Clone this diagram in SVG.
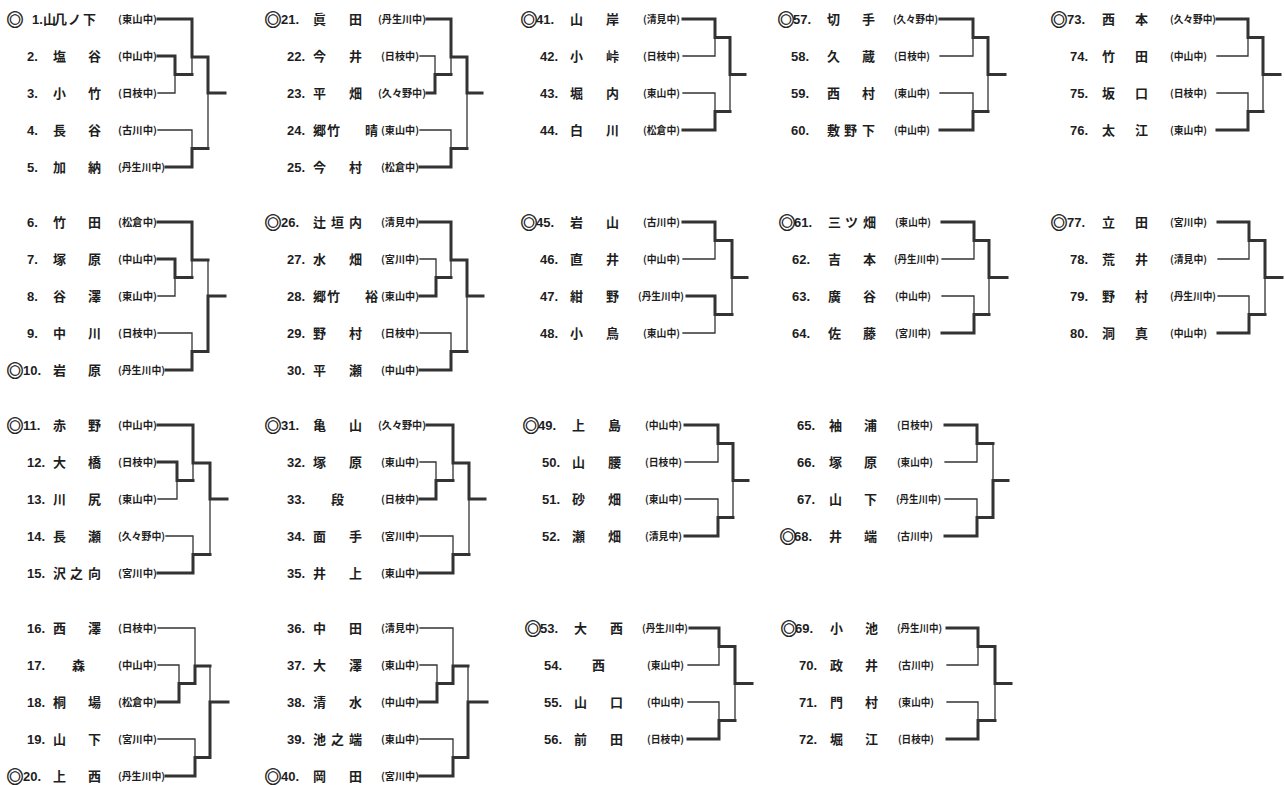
<svg xmlns="http://www.w3.org/2000/svg" width="1285" height="785" viewBox="0 0 1285 785">
<style>
.n{font-family:"Liberation Sans",Arial,sans-serif;font-weight:bold;font-size:13px;fill:#1e1e1e}
.j{font-family:"Noto Sans CJK JP",sans-serif;font-weight:bold;font-size:13px;fill:#1e1e1e}
.m{font-family:"Noto Sans CJK JP",sans-serif;font-weight:bold;font-size:17px;fill:#1e1e1e;stroke:#1e1e1e;stroke-width:0.5;transform:translate(-1.5px,1.5px)}
.s{font-family:"Noto Sans CJK JP",sans-serif;font-weight:bold;font-size:10px;fill:#1e1e1e}
.t{fill:none;stroke:#333;stroke-width:1.3;stroke-linecap:square}
.k{fill:none;stroke:#333;stroke-width:3;stroke-linecap:square}
</style>
<rect width="1285" height="785" fill="#fff"/>
<g id="connectors">
<path class="k" d="M158 19H192 M158 56H175 M175 56V74.5 M175 74.5H192 M192 19V57 M192 57H208 M166 167H192 M192 148.5V167 M192 148.5H208 M208 57V93 M208 93H225"/>
<path class="t" d="M158 93H175 M175 74.5V93 M192 57V74.5 M158 130H192 M192 130V148.5 M208 93V148.5"/>
<path class="k" d="M158 222H192 M158 259H175 M175 259V277.5 M175 277.5H192 M192 222V260 M192 260H208 M166 370H192 M192 351.5V370 M192 351.5H208 M208 296V351.5 M208 296H225"/>
<path class="t" d="M158 296H175 M175 277.5V296 M192 260V277.5 M158 333H192 M192 333V351.5 M208 260V296"/>
<path class="k" d="M158 425H193 M158 462H177 M177 462V480.5 M177 480.5H193 M193 425V463 M193 463H210 M158 573H193 M193 554.5V573 M193 554.5H210 M210 463V499 M210 499H227"/>
<path class="t" d="M158 499H177 M177 480.5V499 M193 463V480.5 M166 536H193 M193 536V554.5 M210 499V554.5"/>
<path class="k" d="M158 702H179 M179 683.5V702 M179 683.5H195 M195 666V683.5 M195 666H210 M166 776H195 M195 757.5V776 M195 757.5H210 M210 702V757.5 M210 702H228"/>
<path class="t" d="M158 628H195 M195 628V666 M158 665H179 M179 665V683.5 M158 739H195 M195 739V757.5 M210 666V702"/>
<path class="k" d="M427 19H451 M427 93H435 M435 74.5V93 M435 74.5H451 M451 19V57 M451 57H467 M420 167H451 M451 148.5V167 M451 148.5H467 M467 57V93 M467 93H482"/>
<path class="t" d="M420 56H435 M435 56V74.5 M451 57V74.5 M420 130H451 M451 130V148.5 M467 93V148.5"/>
<path class="k" d="M420 222H451 M420 296H436 M436 277.5V296 M436 277.5H451 M451 222V260 M451 260H467 M420 370H451 M451 351.5V370 M451 351.5H467 M467 260V296 M467 296H483"/>
<path class="t" d="M420 259H436 M436 259V277.5 M451 260V277.5 M420 333H451 M451 333V351.5 M467 296V351.5"/>
<path class="k" d="M427 425H453 M420 499H436 M436 480.5V499 M436 480.5H453 M453 425V463 M453 463H469 M420 573H453 M453 554.5V573 M453 554.5H469 M469 463V499 M469 499H485"/>
<path class="t" d="M420 462H436 M436 462V480.5 M453 463V480.5 M420 536H453 M453 536V554.5 M469 499V554.5"/>
<path class="k" d="M420 702H437 M437 683.5V702 M437 683.5H453 M453 666V683.5 M453 666H468 M420 776H453 M453 757.5V776 M453 757.5H468 M468 702V757.5 M468 702H487"/>
<path class="t" d="M420 628H453 M453 628V666 M420 665H437 M437 665V683.5 M420 739H453 M453 739V757.5 M468 666V702"/>
<path class="k" d="M683 19H715 M715 19V37.5 M715 37.5H730 M683 130H715 M715 111.5V130 M715 111.5H730 M730 37.5V74.5 M730 74.5H745"/>
<path class="t" d="M683 56H715 M715 37.5V56 M683 93H715 M715 93V111.5 M730 74.5V111.5"/>
<path class="k" d="M683 222H715 M715 222V240.5 M715 240.5H732 M687 296H715 M715 296V314.5 M715 314.5H732 M732 240.5V277.5 M732 277.5H747"/>
<path class="t" d="M683 259H715 M715 240.5V259 M683 333H715 M715 314.5V333 M732 277.5V314.5"/>
<path class="k" d="M685 425H718 M718 425V443.5 M718 443.5H733 M685 536H718 M718 517.5V536 M718 517.5H733 M733 443.5V480.5 M733 480.5H748"/>
<path class="t" d="M685 462H718 M718 443.5V462 M685 499H718 M718 499V517.5 M733 480.5V517.5"/>
<path class="k" d="M690 628H719 M719 628V646.5 M719 646.5H735 M688 739H719 M719 720.5V739 M719 720.5H735 M735 646.5V683.5 M735 683.5H752"/>
<path class="t" d="M688 665H719 M719 646.5V665 M688 702H719 M719 702V720.5 M735 683.5V720.5"/>
<path class="k" d="M940 19H973 M973 19V37.5 M973 37.5H988 M940 130H973 M973 111.5V130 M973 111.5H988 M988 37.5V74.5 M988 74.5H1005"/>
<path class="t" d="M940 56H973 M973 37.5V56 M940 93H973 M973 93V111.5 M988 74.5V111.5"/>
<path class="k" d="M942 222H974 M974 222V240.5 M974 240.5H989 M942 333H974 M974 314.5V333 M974 314.5H989 M989 240.5V277.5 M989 277.5H1007"/>
<path class="t" d="M942 259H974 M974 240.5V259 M942 296H974 M974 296V314.5 M989 277.5V314.5"/>
<path class="k" d="M945 425H977 M977 425V443.5 M977 443.5H993 M945 536H977 M977 517.5V536 M977 517.5H993 M993 480.5V517.5 M993 480.5H1008"/>
<path class="t" d="M945 462H977 M977 443.5V462 M945 499H977 M977 499V517.5 M993 443.5V480.5"/>
<path class="k" d="M947 628H978 M978 628V646.5 M978 646.5H995 M947 739H978 M978 720.5V739 M978 720.5H995 M995 646.5V683.5 M995 683.5H1011"/>
<path class="t" d="M947 665H978 M978 646.5V665 M947 702H978 M978 702V720.5 M995 683.5V720.5"/>
<path class="k" d="M1217 19H1248 M1248 19V37.5 M1248 37.5H1263 M1217 130H1248 M1248 111.5V130 M1248 111.5H1263 M1263 37.5V74.5 M1263 74.5H1280"/>
<path class="t" d="M1217 56H1248 M1248 37.5V56 M1217 93H1248 M1248 93V111.5 M1263 74.5V111.5"/>
<path class="k" d="M1218 222H1249 M1249 222V240.5 M1249 240.5H1265 M1218 333H1249 M1249 314.5V333 M1249 314.5H1265 M1265 240.5V277.5 M1265 277.5H1282"/>
<path class="t" d="M1218 259H1249 M1249 240.5V259 M1218 296H1249 M1249 296V314.5 M1265 277.5V314.5"/>
</g>
<g id="e1"><text class="m" x="8" y="24">◎</text><text class="n" x="32" y="24">1.</text><text class="j" x="43 54 68 83" y="24">山几ノ下</text><text class="s" x="118" y="23" textLength="39" lengthAdjust="spacingAndGlyphs">(東山中)</text></g>
<g id="e2"><text class="n" x="27" y="61">2.</text><text class="j" x="53 88" y="61">塩谷</text><text class="s" x="118" y="60" textLength="39" lengthAdjust="spacingAndGlyphs">(中山中)</text></g>
<g id="e3"><text class="n" x="27" y="98">3.</text><text class="j" x="53 88" y="98">小竹</text><text class="s" x="118" y="97" textLength="39" lengthAdjust="spacingAndGlyphs">(日枝中)</text></g>
<g id="e4"><text class="n" x="27" y="135">4.</text><text class="j" x="53 88" y="135">長谷</text><text class="s" x="118" y="134" textLength="39" lengthAdjust="spacingAndGlyphs">(古川中)</text></g>
<g id="e5"><text class="n" x="27" y="172">5.</text><text class="j" x="53 88" y="172">加納</text><text class="s" x="118" y="171" textLength="47" lengthAdjust="spacingAndGlyphs">(丹生川中)</text></g>
<g id="e6"><text class="n" x="27" y="227">6.</text><text class="j" x="53 88" y="227">竹田</text><text class="s" x="118" y="226" textLength="39" lengthAdjust="spacingAndGlyphs">(松倉中)</text></g>
<g id="e7"><text class="n" x="27" y="264">7.</text><text class="j" x="53 88" y="264">塚原</text><text class="s" x="118" y="263" textLength="39" lengthAdjust="spacingAndGlyphs">(中山中)</text></g>
<g id="e8"><text class="n" x="27" y="301">8.</text><text class="j" x="53 88" y="301">谷澤</text><text class="s" x="118" y="300" textLength="39" lengthAdjust="spacingAndGlyphs">(東山中)</text></g>
<g id="e9"><text class="n" x="27" y="338">9.</text><text class="j" x="53 88" y="338">中川</text><text class="s" x="118" y="337" textLength="39" lengthAdjust="spacingAndGlyphs">(日枝中)</text></g>
<g id="e10"><text class="m" x="8" y="375">◎</text><text class="n" x="23" y="375">10.</text><text class="j" x="53 88" y="375">岩原</text><text class="s" x="118" y="374" textLength="47" lengthAdjust="spacingAndGlyphs">(丹生川中)</text></g>
<g id="e11"><text class="m" x="8" y="430">◎</text><text class="n" x="23" y="430">11.</text><text class="j" x="53 88" y="430">赤野</text><text class="s" x="118" y="429" textLength="39" lengthAdjust="spacingAndGlyphs">(中山中)</text></g>
<g id="e12"><text class="n" x="27" y="467">12.</text><text class="j" x="53 88" y="467">大橋</text><text class="s" x="118" y="466" textLength="39" lengthAdjust="spacingAndGlyphs">(日枝中)</text></g>
<g id="e13"><text class="n" x="27" y="504">13.</text><text class="j" x="53 88" y="504">川尻</text><text class="s" x="118" y="503" textLength="39" lengthAdjust="spacingAndGlyphs">(東山中)</text></g>
<g id="e14"><text class="n" x="27" y="541">14.</text><text class="j" x="53 88" y="541">長瀬</text><text class="s" x="118" y="540" textLength="47" lengthAdjust="spacingAndGlyphs">(久々野中)</text></g>
<g id="e15"><text class="n" x="27" y="578">15.</text><text class="j" x="53 70 88" y="578">沢之向</text><text class="s" x="118" y="577" textLength="39" lengthAdjust="spacingAndGlyphs">(宮川中)</text></g>
<g id="e16"><text class="n" x="27" y="633">16.</text><text class="j" x="53 88" y="633">西澤</text><text class="s" x="118" y="632" textLength="39" lengthAdjust="spacingAndGlyphs">(日枝中)</text></g>
<g id="e17"><text class="n" x="27" y="670">17.</text><text class="j" x="72" y="670">森</text><text class="s" x="118" y="669" textLength="39" lengthAdjust="spacingAndGlyphs">(中山中)</text></g>
<g id="e18"><text class="n" x="27" y="707">18.</text><text class="j" x="53 88" y="707">桐場</text><text class="s" x="118" y="706" textLength="39" lengthAdjust="spacingAndGlyphs">(松倉中)</text></g>
<g id="e19"><text class="n" x="27" y="744">19.</text><text class="j" x="53 88" y="744">山下</text><text class="s" x="118" y="743" textLength="39" lengthAdjust="spacingAndGlyphs">(宮川中)</text></g>
<g id="e20"><text class="m" x="8" y="781">◎</text><text class="n" x="23" y="781">20.</text><text class="j" x="53 88" y="781">上西</text><text class="s" x="118" y="780" textLength="47" lengthAdjust="spacingAndGlyphs">(丹生川中)</text></g>
<g id="e21"><text class="m" x="266" y="24">◎</text><text class="n" x="281" y="24">21.</text><text class="j" x="313 349" y="24">眞田</text><text class="s" x="378" y="23" textLength="48" lengthAdjust="spacingAndGlyphs">(丹生川中)</text></g>
<g id="e22"><text class="n" x="287" y="61">22.</text><text class="j" x="313 349" y="61">今井</text><text class="s" x="381" y="60" textLength="38" lengthAdjust="spacingAndGlyphs">(日枝中)</text></g>
<g id="e23"><text class="n" x="287" y="98">23.</text><text class="j" x="313 349" y="98">平畑</text><text class="s" x="378" y="97" textLength="48" lengthAdjust="spacingAndGlyphs">(久々野中)</text></g>
<g id="e24"><text class="n" x="287" y="135">24.</text><text class="j" x="313 327 365" y="135">郷竹晴</text><text class="s" x="381" y="134" textLength="38" lengthAdjust="spacingAndGlyphs">(東山中)</text></g>
<g id="e25"><text class="n" x="287" y="172">25.</text><text class="j" x="313 349" y="172">今村</text><text class="s" x="381" y="171" textLength="38" lengthAdjust="spacingAndGlyphs">(松倉中)</text></g>
<g id="e26"><text class="m" x="266" y="227">◎</text><text class="n" x="281" y="227">26.</text><text class="j" x="313 331 349" y="227">辻垣内</text><text class="s" x="381" y="226" textLength="38" lengthAdjust="spacingAndGlyphs">(清見中)</text></g>
<g id="e27"><text class="n" x="287" y="264">27.</text><text class="j" x="313 349" y="264">水畑</text><text class="s" x="381" y="263" textLength="38" lengthAdjust="spacingAndGlyphs">(宮川中)</text></g>
<g id="e28"><text class="n" x="287" y="301">28.</text><text class="j" x="313 327 365" y="301">郷竹裕</text><text class="s" x="381" y="300" textLength="38" lengthAdjust="spacingAndGlyphs">(東山中)</text></g>
<g id="e29"><text class="n" x="287" y="338">29.</text><text class="j" x="313 349" y="338">野村</text><text class="s" x="381" y="337" textLength="38" lengthAdjust="spacingAndGlyphs">(日枝中)</text></g>
<g id="e30"><text class="n" x="287" y="375">30.</text><text class="j" x="313 349" y="375">平瀬</text><text class="s" x="381" y="374" textLength="38" lengthAdjust="spacingAndGlyphs">(中山中)</text></g>
<g id="e31"><text class="m" x="266" y="430">◎</text><text class="n" x="281" y="430">31.</text><text class="j" x="313 349" y="430">亀山</text><text class="s" x="378" y="429" textLength="48" lengthAdjust="spacingAndGlyphs">(久々野中)</text></g>
<g id="e32"><text class="n" x="287" y="467">32.</text><text class="j" x="313 349" y="467">塚原</text><text class="s" x="381" y="466" textLength="38" lengthAdjust="spacingAndGlyphs">(東山中)</text></g>
<g id="e33"><text class="n" x="287" y="504">33.</text><text class="j" x="331" y="504">段</text><text class="s" x="381" y="503" textLength="38" lengthAdjust="spacingAndGlyphs">(日枝中)</text></g>
<g id="e34"><text class="n" x="287" y="541">34.</text><text class="j" x="313 349" y="541">面手</text><text class="s" x="381" y="540" textLength="38" lengthAdjust="spacingAndGlyphs">(宮川中)</text></g>
<g id="e35"><text class="n" x="287" y="578">35.</text><text class="j" x="313 349" y="578">井上</text><text class="s" x="381" y="577" textLength="38" lengthAdjust="spacingAndGlyphs">(東山中)</text></g>
<g id="e36"><text class="n" x="287" y="633">36.</text><text class="j" x="313 349" y="633">中田</text><text class="s" x="381" y="632" textLength="38" lengthAdjust="spacingAndGlyphs">(清見中)</text></g>
<g id="e37"><text class="n" x="287" y="670">37.</text><text class="j" x="313 349" y="670">大澤</text><text class="s" x="381" y="669" textLength="38" lengthAdjust="spacingAndGlyphs">(東山中)</text></g>
<g id="e38"><text class="n" x="287" y="707">38.</text><text class="j" x="313 349" y="707">清水</text><text class="s" x="381" y="706" textLength="38" lengthAdjust="spacingAndGlyphs">(中山中)</text></g>
<g id="e39"><text class="n" x="287" y="744">39.</text><text class="j" x="313 331 349" y="744">池之端</text><text class="s" x="381" y="743" textLength="38" lengthAdjust="spacingAndGlyphs">(東山中)</text></g>
<g id="e40"><text class="m" x="266" y="781">◎</text><text class="n" x="281" y="781">40.</text><text class="j" x="313 349" y="781">岡田</text><text class="s" x="381" y="780" textLength="38" lengthAdjust="spacingAndGlyphs">(宮川中)</text></g>
<g id="e41"><text class="m" x="522" y="24">◎</text><text class="n" x="536" y="24">41.</text><text class="j" x="570 606" y="24">山岸</text><text class="s" x="643" y="23" textLength="37" lengthAdjust="spacingAndGlyphs">(清見中)</text></g>
<g id="e42"><text class="n" x="540" y="61">42.</text><text class="j" x="570 606" y="61">小峠</text><text class="s" x="643" y="60" textLength="37" lengthAdjust="spacingAndGlyphs">(日枝中)</text></g>
<g id="e43"><text class="n" x="540" y="98">43.</text><text class="j" x="570 606" y="98">堀内</text><text class="s" x="643" y="97" textLength="37" lengthAdjust="spacingAndGlyphs">(東山中)</text></g>
<g id="e44"><text class="n" x="540" y="135">44.</text><text class="j" x="570 606" y="135">白川</text><text class="s" x="643" y="134" textLength="37" lengthAdjust="spacingAndGlyphs">(松倉中)</text></g>
<g id="e45"><text class="m" x="522" y="227">◎</text><text class="n" x="536" y="227">45.</text><text class="j" x="570 606" y="227">岩山</text><text class="s" x="643" y="226" textLength="37" lengthAdjust="spacingAndGlyphs">(古川中)</text></g>
<g id="e46"><text class="n" x="540" y="264">46.</text><text class="j" x="570 606" y="264">直井</text><text class="s" x="643" y="263" textLength="37" lengthAdjust="spacingAndGlyphs">(中山中)</text></g>
<g id="e47"><text class="n" x="540" y="301">47.</text><text class="j" x="570 606" y="301">紺野</text><text class="s" x="638" y="300" textLength="46" lengthAdjust="spacingAndGlyphs">(丹生川中)</text></g>
<g id="e48"><text class="n" x="540" y="338">48.</text><text class="j" x="570 606" y="338">小鳥</text><text class="s" x="643" y="337" textLength="37" lengthAdjust="spacingAndGlyphs">(東山中)</text></g>
<g id="e49"><text class="m" x="524" y="430">◎</text><text class="n" x="538" y="430">49.</text><text class="j" x="572 608" y="430">上島</text><text class="s" x="645" y="429" textLength="37" lengthAdjust="spacingAndGlyphs">(中山中)</text></g>
<g id="e50"><text class="n" x="542" y="467">50.</text><text class="j" x="572 608" y="467">山腰</text><text class="s" x="645" y="466" textLength="37" lengthAdjust="spacingAndGlyphs">(日枝中)</text></g>
<g id="e51"><text class="n" x="542" y="504">51.</text><text class="j" x="572 608" y="504">砂畑</text><text class="s" x="645" y="503" textLength="37" lengthAdjust="spacingAndGlyphs">(東山中)</text></g>
<g id="e52"><text class="n" x="542" y="541">52.</text><text class="j" x="572 608" y="541">瀬畑</text><text class="s" x="645" y="540" textLength="37" lengthAdjust="spacingAndGlyphs">(清見中)</text></g>
<g id="e53"><text class="m" x="526" y="633">◎</text><text class="n" x="540" y="633">53.</text><text class="j" x="574 610" y="633">大西</text><text class="s" x="642" y="632" textLength="46" lengthAdjust="spacingAndGlyphs">(丹生川中)</text></g>
<g id="e54"><text class="n" x="544" y="670">54.</text><text class="j" x="592" y="670">西</text><text class="s" x="647" y="669" textLength="37" lengthAdjust="spacingAndGlyphs">(東山中)</text></g>
<g id="e55"><text class="n" x="544" y="707">55.</text><text class="j" x="574 610" y="707">山口</text><text class="s" x="647" y="706" textLength="37" lengthAdjust="spacingAndGlyphs">(中山中)</text></g>
<g id="e56"><text class="n" x="544" y="744">56.</text><text class="j" x="574 610" y="744">前田</text><text class="s" x="647" y="743" textLength="37" lengthAdjust="spacingAndGlyphs">(日枝中)</text></g>
<g id="e57"><text class="m" x="779" y="24">◎</text><text class="n" x="793" y="24">57.</text><text class="j" x="827 862" y="24">切手</text><text class="s" x="893" y="23" textLength="45" lengthAdjust="spacingAndGlyphs">(久々野中)</text></g>
<g id="e58"><text class="n" x="791" y="61">58.</text><text class="j" x="827 862" y="61">久蔵</text><text class="s" x="894" y="60" textLength="36" lengthAdjust="spacingAndGlyphs">(日枝中)</text></g>
<g id="e59"><text class="n" x="791" y="98">59.</text><text class="j" x="827 862" y="98">西村</text><text class="s" x="894" y="97" textLength="36" lengthAdjust="spacingAndGlyphs">(東山中)</text></g>
<g id="e60"><text class="n" x="791" y="135">60.</text><text class="j" x="827 844 862" y="135">敷野下</text><text class="s" x="894" y="134" textLength="36" lengthAdjust="spacingAndGlyphs">(中山中)</text></g>
<g id="e61"><text class="m" x="780" y="227">◎</text><text class="n" x="794" y="227">61.</text><text class="j" x="828 845 863" y="227">三ツ畑</text><text class="s" x="895" y="226" textLength="36" lengthAdjust="spacingAndGlyphs">(東山中)</text></g>
<g id="e62"><text class="n" x="792" y="264">62.</text><text class="j" x="828 863" y="264">吉本</text><text class="s" x="894" y="263" textLength="45" lengthAdjust="spacingAndGlyphs">(丹生川中)</text></g>
<g id="e63"><text class="n" x="792" y="301">63.</text><text class="j" x="828 863" y="301">廣谷</text><text class="s" x="895" y="300" textLength="36" lengthAdjust="spacingAndGlyphs">(中山中)</text></g>
<g id="e64"><text class="n" x="792" y="338">64.</text><text class="j" x="828 863" y="338">佐藤</text><text class="s" x="895" y="337" textLength="36" lengthAdjust="spacingAndGlyphs">(宮川中)</text></g>
<g id="e65"><text class="n" x="797" y="430">65.</text><text class="j" x="829 864" y="430">袖浦</text><text class="s" x="897" y="429" textLength="36" lengthAdjust="spacingAndGlyphs">(日枝中)</text></g>
<g id="e66"><text class="n" x="797" y="467">66.</text><text class="j" x="829 864" y="467">塚原</text><text class="s" x="897" y="466" textLength="36" lengthAdjust="spacingAndGlyphs">(東山中)</text></g>
<g id="e67"><text class="n" x="797" y="504">67.</text><text class="j" x="829 864" y="504">山下</text><text class="s" x="896" y="503" textLength="45" lengthAdjust="spacingAndGlyphs">(丹生川中)</text></g>
<g id="e68"><text class="m" x="781" y="541">◎</text><text class="n" x="794" y="541">68.</text><text class="j" x="829 864" y="541">井端</text><text class="s" x="897" y="540" textLength="36" lengthAdjust="spacingAndGlyphs">(古川中)</text></g>
<g id="e69"><text class="m" x="782" y="633">◎</text><text class="n" x="795" y="633">69.</text><text class="j" x="830 865" y="633">小池</text><text class="s" x="897" y="632" textLength="45" lengthAdjust="spacingAndGlyphs">(丹生川中)</text></g>
<g id="e70"><text class="n" x="799" y="670">70.</text><text class="j" x="830 865" y="670">政井</text><text class="s" x="898" y="669" textLength="36" lengthAdjust="spacingAndGlyphs">(古川中)</text></g>
<g id="e71"><text class="n" x="799" y="707">71.</text><text class="j" x="830 865" y="707">門村</text><text class="s" x="898" y="706" textLength="36" lengthAdjust="spacingAndGlyphs">(東山中)</text></g>
<g id="e72"><text class="n" x="799" y="744">72.</text><text class="j" x="830 865" y="744">堀江</text><text class="s" x="898" y="743" textLength="36" lengthAdjust="spacingAndGlyphs">(日枝中)</text></g>
<g id="e73"><text class="m" x="1052" y="24">◎</text><text class="n" x="1067" y="24">73.</text><text class="j" x="1102 1135" y="24">西本</text><text class="s" x="1170" y="23" textLength="46" lengthAdjust="spacingAndGlyphs">(久々野中)</text></g>
<g id="e74"><text class="n" x="1070" y="61">74.</text><text class="j" x="1102 1135" y="61">竹田</text><text class="s" x="1170" y="60" textLength="37" lengthAdjust="spacingAndGlyphs">(中山中)</text></g>
<g id="e75"><text class="n" x="1070" y="98">75.</text><text class="j" x="1102 1135" y="98">坂口</text><text class="s" x="1170" y="97" textLength="37" lengthAdjust="spacingAndGlyphs">(日枝中)</text></g>
<g id="e76"><text class="n" x="1070" y="135">76.</text><text class="j" x="1102 1135" y="135">太江</text><text class="s" x="1170" y="134" textLength="37" lengthAdjust="spacingAndGlyphs">(東山中)</text></g>
<g id="e77"><text class="m" x="1052" y="227">◎</text><text class="n" x="1067" y="227">77.</text><text class="j" x="1102 1135" y="227">立田</text><text class="s" x="1170" y="226" textLength="37" lengthAdjust="spacingAndGlyphs">(宮川中)</text></g>
<g id="e78"><text class="n" x="1070" y="264">78.</text><text class="j" x="1102 1135" y="264">荒井</text><text class="s" x="1170" y="263" textLength="37" lengthAdjust="spacingAndGlyphs">(清見中)</text></g>
<g id="e79"><text class="n" x="1070" y="301">79.</text><text class="j" x="1102 1135" y="301">野村</text><text class="s" x="1170" y="300" textLength="46" lengthAdjust="spacingAndGlyphs">(丹生川中)</text></g>
<g id="e80"><text class="n" x="1070" y="338">80.</text><text class="j" x="1102 1135" y="338">洞真</text><text class="s" x="1170" y="337" textLength="37" lengthAdjust="spacingAndGlyphs">(中山中)</text></g>
</svg>
